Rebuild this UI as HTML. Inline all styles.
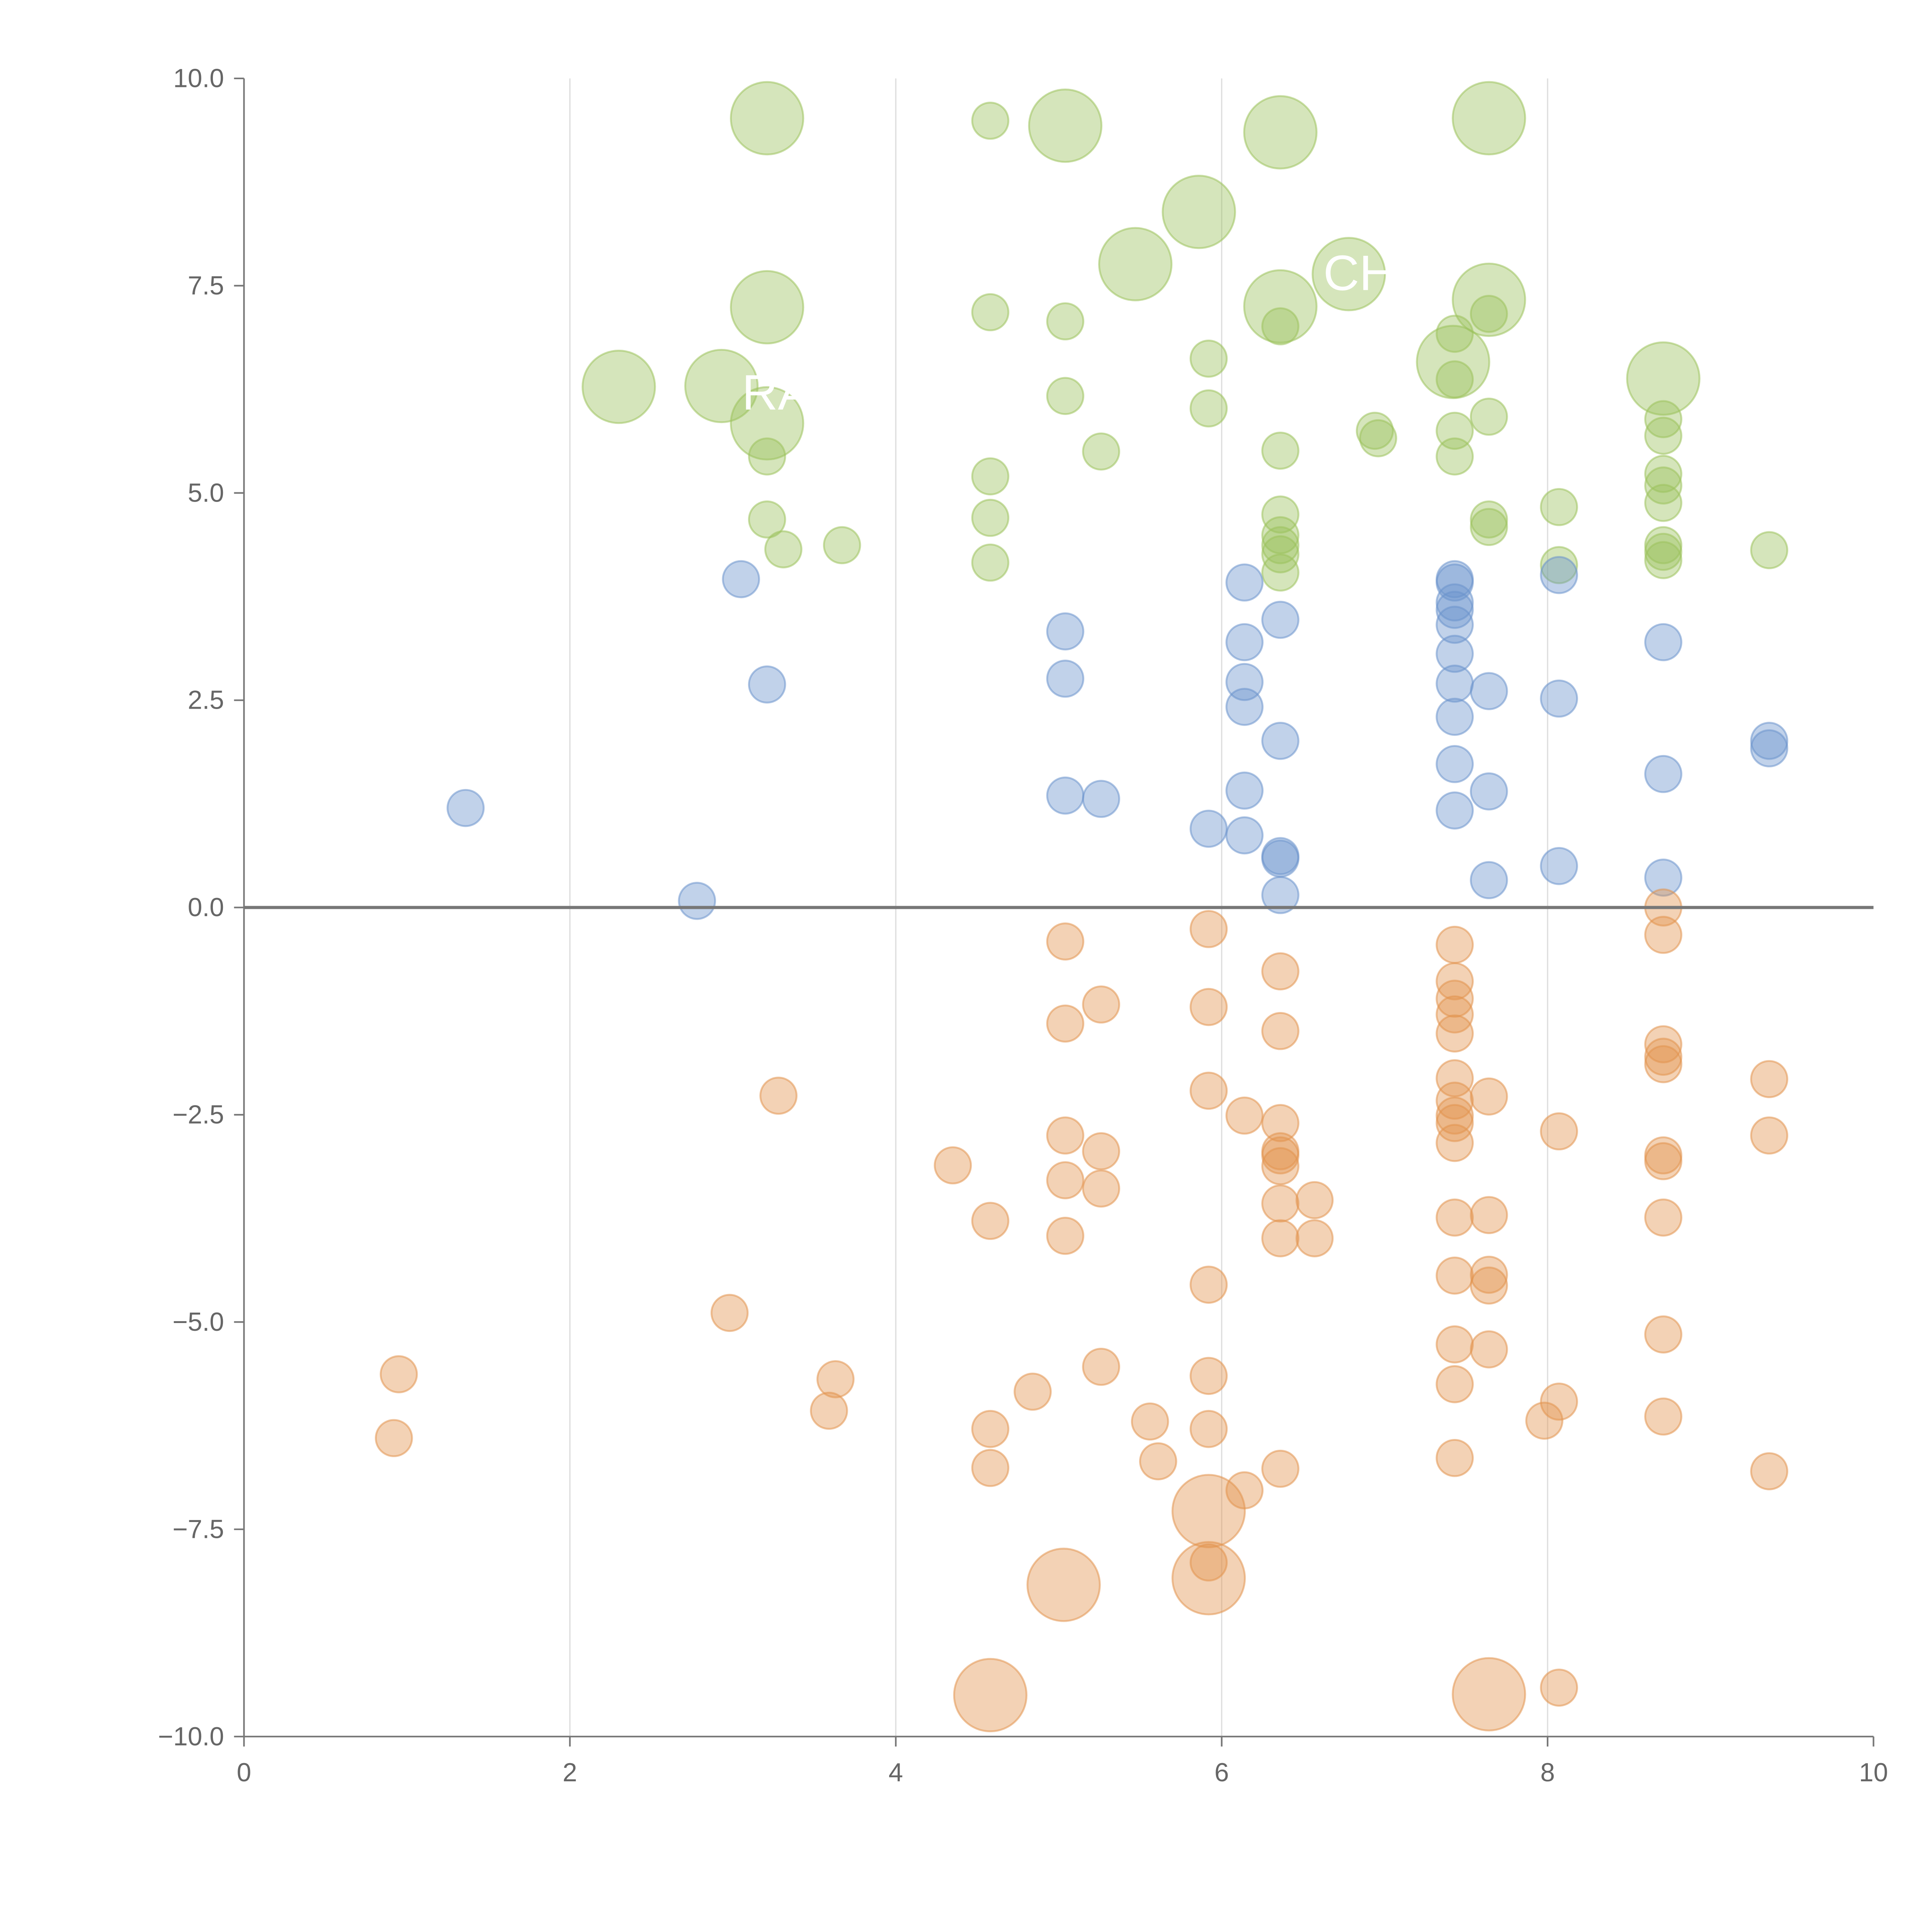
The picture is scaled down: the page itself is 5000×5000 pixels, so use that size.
<!DOCTYPE html>
<html><head><meta charset="utf-8">
<style>html,body{margin:0;padding:0;background:#fff}svg{display:block}</style></head>
<body>
<svg id="chart" width="5000" height="5000" viewBox="0 0 1552 1552" xmlns="http://www.w3.org/2000/svg" font-family="Liberation Sans, sans-serif">
<g id="grid"></g>
<g id="marks"></g>
<g id="axes"></g>
<g id="labels">
<text x="1063" y="233" font-size="40" fill="#fff">CH</text>
<text x="596" y="329" font-size="40" fill="#fff">RA</text>
</g>
</svg>
<script>
const xTicks = [0, 2, 4, 6, 8, 10];
const yTicks = [10, 7.5, 5, 2.5, 0, -2.5, -5, -7.5, -10];
const yTickLabels = ["10.0", "7.5", "5.0", "2.5", "0.0", "\u22122.5", "\u22125.0", "\u22127.5", "\u221210.0"];

const greenX = [3.21,5.04,6.36,7.64,5.86,5.47,3.21,6.36,6.78,7.64,2.30,2.93,3.21,7.42,8.71,
 4.58,4.58,5.04,5.92,5.04,5.92,5.26,6.36,6.36,7.43,7.43,7.43,7.43,7.64,7.64,6.94,6.96,3.21,3.21,3.31,3.67,4.58,4.58,4.58,6.36,6.36,6.36,6.36,6.36,7.64,7.64,8.07,8.07,8.71,8.71,8.71,8.71,8.71,8.71,8.71,8.71,9.36];
const greenY = [9.52,9.43,9.35,9.52,8.39,7.76,7.24,7.25,7.64,7.33,6.28,6.29,5.84,6.58,6.38,
 9.49,7.18,7.07,6.62,6.17,6.02,5.50,7.01,5.51,6.92,6.37,5.75,5.44,7.16,5.92,5.75,5.66,5.44,4.68,4.32,4.37,5.20,4.70,4.16,4.74,4.49,4.37,4.26,4.04,4.68,4.59,4.83,4.13,5.89,5.69,5.23,5.09,4.88,4.37,4.29,4.19,4.31];
const greenSize = [40,40,40,40,40,40,40,40,40,40,40,40,40,40,40,
 10,10,10,10,10,10,10,10,10,10,10,10,10,10,10,10,10,10,10,10,10,10,10,10,10,10,10,10,10,10,10,10,10,10,10,10,10,10,10,10,10,10];

const blueX = [1.36,2.78,3.05,3.21,5.04,5.04,5.04,5.26,5.92,6.14,6.14,6.14,6.14,6.14,6.14,6.36,6.36,6.36,6.36,6.36,7.43,7.43,7.43,7.43,7.43,7.43,7.43,7.43,7.43,7.43,7.64,7.64,7.64,8.07,8.07,8.07,8.71,8.71,8.71,9.36,9.36];
const blueY = [1.20,0.08,3.96,2.69,3.33,2.76,1.35,1.31,0.95,3.92,3.20,2.72,2.42,1.41,0.87,3.47,2.01,0.62,0.59,0.15,3.96,3.92,3.68,3.59,3.41,3.06,2.70,2.30,1.73,1.17,2.61,1.40,0.33,4.01,2.52,0.50,3.20,1.61,0.36,2.01,1.92];
const blueSize = blueX.map(() => 10);

const orangeX = [5.04,5.26,5.04,5.92,5.92,5.92,5.92,5.92,5.92,5.92,6.14,6.14,6.36,6.36,6.36,6.36,6.36,6.36,6.36,6.36,6.36,6.57,6.57,3.28,4.35,4.58,5.04,5.04,5.04,5.26,5.26,5.26,2.98,0.95,0.92,3.63,3.59,4.84,4.58,4.58,5.56,5.61,
 7.43,7.43,7.43,7.43,7.43,7.43,7.43,7.43,7.43,7.43,7.43,7.43,7.43,7.43,7.43,7.64,7.64,7.64,7.64,7.64,8.07,8.07,7.98,8.07,8.71,8.71,8.71,8.71,8.71,8.71,8.71,8.71,8.71,8.71,9.36,9.36,9.36,
 5.92,5.92,5.03,4.58,7.64];
const orangeY = [-0.41,-1.17,-1.40,-0.26,-1.20,-2.21,-4.55,-5.65,-6.29,-7.90,-2.51,-7.03,-0.77,-1.49,-2.60,-2.94,-2.99,-3.12,-3.57,-3.99,-6.77,-3.53,-3.99,-2.27,-3.11,-3.78,-2.75,-3.29,-3.96,-2.94,-3.39,-5.54,-4.89,-5.63,-6.40,-5.69,-6.07,-5.84,-6.29,-6.76,-6.20,-6.68,
 -0.45,-0.89,-1.10,-1.29,-1.52,-2.06,-2.33,-2.51,-2.60,-2.84,-3.74,-4.44,-5.27,-5.75,-6.64,-2.28,-3.71,-4.43,-4.56,-5.33,-2.70,-5.96,-6.19,-9.41,0.0,-0.33,-1.65,-1.80,-1.89,-2.99,-3.06,-3.74,-5.15,-6.14,-2.07,-2.75,-6.80,
 -7.28,-8.09,-8.17,-9.50,-9.49];
const orangeSize = orangeX.map((v, i) => i >= orangeX.length - 5 ? 40 : 10);

const NS = "http://www.w3.org/2000/svg";
const X0 = 196, X1 = 1505, Y0 = 1395, Y1 = 63;
function xScale(v) { return X0 + (v - 0) / 10 * (X1 - X0); }
function yScale(v) { return Y0 - (v + 10) / 20 * (Y0 - Y1); }
function rScale(s) { return Math.sqrt(s) * 4.6; }
function mk(tag, attrs, parent) {
  const e = document.createElementNS(NS, tag);
  for (const k in attrs) e.setAttribute(k, attrs[k]);
  parent.appendChild(e);
  return e;
}
const grid = document.getElementById('grid');
const axes = document.getElementById('axes');
const marks = document.getElementById('marks');

xTicks.forEach(t => {
  if (t > 0 && t < 10) {
    const l = mk('line', {x1: xScale(t), x2: xScale(t), y1: Y1, y2: Y0, stroke: '#dddddd', 'stroke-width': 1}, grid);
    
    
  }
  const tk = mk('line', {x1: xScale(t), x2: xScale(t), y1: Y0, y2: Y0 + 8, stroke: '#777', 'stroke-width': 1.3}, axes);
  
  
  const tx = mk('text', {x: xScale(t), y: Y0 + 36, 'text-anchor': 'middle', 'font-size': 21, fill: '#666'}, axes);
  
  
  tx.textContent = String(t);
});
yTicks.forEach((t, i) => {
  const tk = mk('line', {x1: X0 - 8, x2: X0, y1: yScale(t), y2: yScale(t), stroke: '#777', 'stroke-width': 1.3}, axes);
  
  
  const tx = mk('text', {x: X0 - 16, y: yScale(t) + 7, 'text-anchor': 'end', 'font-size': 21, fill: '#666'}, axes);
  
  
  tx.textContent = yTickLabels[i];
});
const ya = mk('line', {x1: X0, x2: X0, y1: Y1, y2: Y0, stroke: '#777', 'stroke-width': 1.3}, axes);


const xa = mk('line', {x1: X0, x2: X1, y1: Y0, y2: Y0, stroke: '#777', 'stroke-width': 1.3}, axes);


const zl = mk('line', {x1: X0, x2: X1, y1: yScale(0), y2: yScale(0), stroke: '#777', 'stroke-width': 2.5}, axes);



function drawSeries(xs, ys, ss, color, name) {
  xs.forEach((x, i) => {
    const c = mk('circle', {cx: xScale(x), cy: yScale(ys[i]), r: rScale(ss[i]), fill: color, 'fill-opacity': 0.42, stroke: color, 'stroke-opacity': 0.55, 'stroke-width': 1.5}, marks);
    
    
  });
}
drawSeries(greenX, greenY, greenSize, '#9cc25c', 'green-point');
drawSeries(blueX, blueY, blueSize, '#6c94cc', 'blue-point');
drawSeries(orangeX, orangeY, orangeSize, '#e2934f', 'orange-point');
</script>
</body></html>
